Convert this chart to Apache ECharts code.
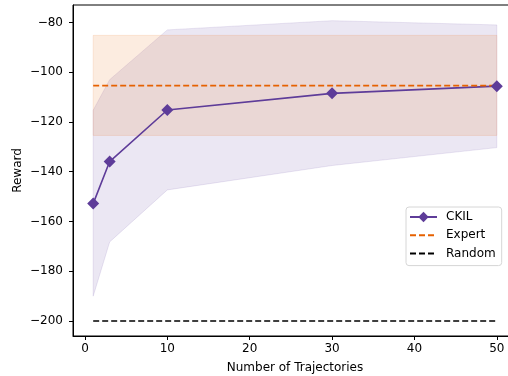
<!DOCTYPE html>
<html><head><meta charset="utf-8">
<script src="https://cdn.jsdelivr.net/npm/echarts@6/dist/echarts.min.js"></script>
<style>html,body{margin:0;padding:0;background:#fff}#c{width:508px;height:376px}</style>
</head><body><div id="c"></div>
<script>
const xVals = [1, 3, 10, 30, 50];
const ckilMean = [-152.8, -135.9, -115.2, -108.5, -105.6];
const ckilUpper = [-115.3, -103.0, -83.0, -79.3, -81.0];
const ckilLower = [-190.0, -168.2, -147.3, -137.5, -130.3];
const expertX = [1, 50];
const expertMean = [-105.4, -105.4];
const expertUpper = [-85.2, -85.2];
const expertLower = [-125.4, -125.4];
const randomX = [1, 50];
const randomMean = [-200, -200];
const xTicks = [0, 10, 20, 30, 40, 50];
const yTicks = [-200, -180, -160, -140, -120, -100, -80];

const PURPLE = '#5e3c99', ORANGE = '#e66101';
const pairs = (xs, ys) => xs.map((x, i) => [x, ys[i]]);
const fmt = v => String(v).replace('-', '\u2212');
const FS = 12;
const txt = { color: '#000', fontFamily: 'DejaVu Sans', fontSize: FS };

function band(xs, lo, hi, color) {
  return {
    type: 'custom', silent: true, clip: true,
    data: xs.map((x, i) => [x, lo[i], hi[i]]),
    encode: { x: 0, y: [1, 2] },
    renderItem: function (params, api) {
      if (params.dataIndex !== 0) return null;
      const pts = [];
      for (let i = 0; i < xs.length; i++) pts.push(api.coord([xs[i], hi[i]]));
      for (let i = xs.length - 1; i >= 0; i--) pts.push(api.coord([xs[i], lo[i]]));
      return { type: 'polygon', shape: { points: pts },
        style: { fill: color, opacity: 0.12, stroke: color, lineWidth: 1 } };
    }
  };
}

const chart = echarts.init(document.getElementById('c'), null, { renderer: 'canvas' });
chart.setOption({
  animation: false,
  grid: { left: 73, top: 5, width: 444, height: 331, outerBoundsMode: 'none', containLabel: false,
    show: true, borderColor: '#000', borderWidth: 1, backgroundColor: 'transparent' },
  legend: {
    data: ['CKIL', { name: 'Expert', itemStyle: { opacity: 0 } }, { name: 'Random', itemStyle: { opacity: 0 } }],
    orient: 'vertical', left: 406, top: 207,
    itemWidth: 27, itemHeight: 13, itemGap: 6.3, padding: [4, 6, 6, 3],
    backgroundColor: '#fff', borderColor: '#d6d6d6', borderWidth: 1, borderRadius: 3,
    textStyle: Object.assign({}, txt, { padding: [0, 0, 0, 4] })
  },
  xAxis: {
    type: 'value', min: -1.45, max: 52.45,
    name: 'Number of Trajectories', nameLocation: 'middle', nameGap: 26, nameMoveOverlap: false,
    nameTextStyle: txt,
    axisLine: { show: true, onZero: false, lineStyle: { color: '#000', width: 1 } },
    axisTick: { show: true, length: 4, customValues: xTicks, lineStyle: { color: '#000' } },
    axisLabel: Object.assign({ customValues: xTicks, margin: 7, formatter: fmt }, txt),
    splitLine: { show: false }
  },
  yAxis: {
    type: 'value', min: -206, max: -73,
    name: 'Reward', nameLocation: 'middle', nameGap: 49, nameMoveOverlap: false,
    nameTextStyle: txt,
    axisLine: { show: true, onZero: false, lineStyle: { color: '#000', width: 1 } },
    axisTick: { show: true, length: 4, customValues: yTicks, lineStyle: { color: '#000' } },
    axisLabel: Object.assign({ customValues: yTicks, margin: 10, formatter: fmt }, txt),
    splitLine: { show: false }
  },
  series: [
    band(xVals, ckilLower, ckilUpper, PURPLE),
    band(expertX, expertLower, expertUpper, ORANGE),
    { name: 'CKIL', type: 'line', data: pairs(xVals, ckilMean), symbol: 'diamond', symbolSize: 12,
      itemStyle: { color: PURPLE }, lineStyle: { color: PURPLE, width: 1.6 } },
    { name: 'Expert', type: 'line', data: pairs(expertX, expertMean), symbol: 'none',
      itemStyle: { color: ORANGE }, lineStyle: { color: ORANGE, width: 1.6, type: [6, 3] } },
    { name: 'Random', type: 'line', data: pairs(randomX, randomMean), symbol: 'none',
      itemStyle: { color: '#000' }, lineStyle: { color: '#000', width: 1.6, type: [6, 3] } }
  ]
});
</script></body></html>
